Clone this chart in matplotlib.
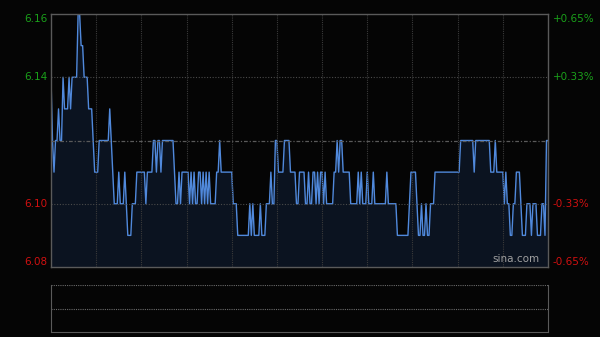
import numpy as np
import matplotlib
matplotlib.use("Agg")
import matplotlib.pyplot as plt

# intraday price, run-length encoded: price level and minutes spent at it
price_levels = [6.14, 6.12, 6.11, 6.12, 6.13, 6.12, 6.14, 6.13, 6.14, 6.13,
                6.14, 6.16, 6.15, 6.14, 6.13, 6.12, 6.11, 6.12, 6.13, 6.12,
                6.11, 6.10, 6.11, 6.10, 6.11, 6.10, 6.09, 6.10, 6.11, 6.10,
                6.11, 6.12, 6.11, 6.12, 6.11, 6.12, 6.11, 6.10, 6.11, 6.10,
                6.11, 6.10, 6.11, 6.10, 6.11, 6.10, 6.11, 6.10, 6.11, 6.10,
                6.11, 6.10, 6.11, 6.10, 6.11, 6.12, 6.11, 6.10, 6.09, 6.10,
                6.09, 6.10, 6.09, 6.10, 6.09, 6.10, 6.11, 6.10, 6.12, 6.11,
                6.12, 6.11, 6.10, 6.11, 6.10, 6.11, 6.10, 6.11, 6.10, 6.11,
                6.10, 6.11, 6.10, 6.11, 6.10, 6.11, 6.12, 6.11, 6.12, 6.11,
                6.10, 6.11, 6.10, 6.11, 6.10, 6.11, 6.10, 6.11, 6.10, 6.11,
                6.10, 6.09, 6.10, 6.11, 6.10, 6.09, 6.10, 6.09, 6.10, 6.09,
                6.10, 6.11, 6.12, 6.11, 6.12, 6.11, 6.12, 6.11, 6.10, 6.11,
                6.10, 6.09, 6.10, 6.11, 6.10, 6.09, 6.10, 6.09, 6.10, 6.09,
                6.10, 6.09, 6.12]
price_minutes = [1, 1, 1, 2, 1, 2, 1, 3, 1, 1,
                 4, 2, 2, 3, 3, 1, 3, 7, 1, 1,
                 1, 3, 1, 3, 1, 1, 3, 3, 6, 1,
                 4, 2, 1, 2, 1, 8, 1, 2, 1, 1,
                 5, 1, 1, 1, 1, 2, 2, 1, 1, 1,
                 1, 1, 1, 4, 2, 1, 8, 3, 8, 1,
                 1, 1, 4, 1, 3, 3, 1, 2, 2, 4,
                 4, 4, 2, 4, 2, 1, 2, 2, 1, 1,
                 1, 2, 1, 1, 5, 2, 1, 1, 2, 5,
                 5, 1, 1, 1, 3, 1, 3, 1, 8, 1,
                 6, 8, 1, 4, 1, 2, 1, 2, 1, 2,
                 3, 17, 9, 1, 10, 3, 1, 5, 1, 1,
                 2, 2, 2, 3, 1, 3, 3, 1, 3, 3,
                 2, 1, 2]
prev_close = 6.12
left_ticks = [6.16, 6.14, 6.10, 6.08]
right_ticks = ['+0.65%', '+0.33%', '-0.33%', '-0.65%']

prices = np.repeat(price_levels, price_minutes)
minutes = np.arange(len(prices))
n_total = 330  # 9:30-12:00 + 13:00-16:00

bg = '#050505'
fig = plt.figure(figsize=(6, 3.37), dpi=100, facecolor=bg)

ax = fig.add_axes([51 / 600, 1 - 267 / 337, 497 / 600, 253 / 337], facecolor=bg)
ax.set_xlim(0, n_total)
ax.set_ylim(6.08, 6.16)

ax.fill_between(minutes, prices, 6.08, color='#102038', alpha=0.55, lw=0)
ax.plot(minutes, prices, color='#5089dc', lw=1.0)

for x in range(30, n_total, 30):
    ax.axvline(x, color='#3a3a3a', lw=0.8, ls=(0, (1, 1)))
for y in [6.14, 6.10]:
    ax.axhline(y, color='#4a4a4a', lw=0.8, ls=(0, (1, 1.5)))
ax.axhline(prev_close, color='#5a5a5a', lw=0.9, ls=(0, (3, 1.5, 1, 1.5)))

for s in ax.spines.values():
    s.set_color('#5a5a5a')
    s.set_linewidth(1.0)
ax.set_xticks([])
ax.set_yticks([])

for v, lab in zip(left_ticks, right_ticks):
    va = 'center'
    if v == 6.16:
        va = 'top'
    elif v == 6.08:
        va = 'bottom'
    col = '#1aa01a' if v > prev_close else '#d01010'
    ax.text(-0.008, (v - 6.08) / 0.08, f'{v:.2f}', transform=ax.transAxes,
            ha='right', va=va, color=col, fontsize=7.5)
    ax.text(1.01, (v - 6.08) / 0.08, lab, transform=ax.transAxes,
            ha='left', va=va, color=col, fontsize=7.5)

ax.text(0.982, 0.01, 'sina.com', transform=ax.transAxes, ha='right', va='bottom',
        color='#a0a0a0', fontsize=7.5)

# volume panel (empty)
vax = fig.add_axes([51 / 600, 1 - 332 / 337, 497 / 600, 47 / 337], facecolor=bg)
vax.set_xlim(0, n_total)
vax.set_ylim(0, 2)
vax.set_xticks([])
vax.set_yticks([])
vax.spines['top'].set_visible(False)
for k in ['left', 'right', 'bottom']:
    vax.spines[k].set_color('#5a5a5a')
vax.axhline(2, color='#6a6a6a', lw=0.8, ls=(0, (1, 1)))
vax.axhline(1, color='#6a6a6a', lw=0.8, ls=(0, (1, 1)))

fig.savefig('out.png', dpi=100, facecolor=bg)
